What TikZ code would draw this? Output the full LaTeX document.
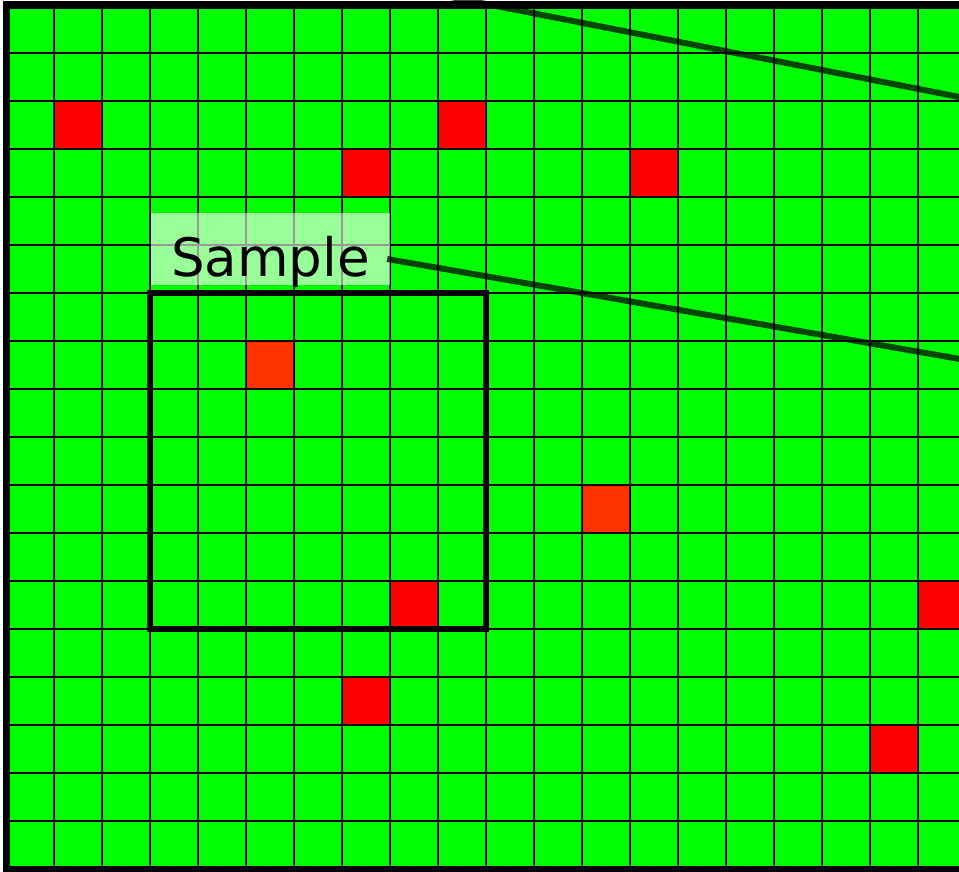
\documentclass[tikz,border=0pt]{standalone}
\usepackage{fontspec}
\setmainfont{DejaVu Sans}
\definecolor{cellgreen}{RGB}{0,255,0}
\definecolor{cellred}{RGB}{255,0,0}
\definecolor{cellorange}{RGB}{255,51,0}
\tikzset{
  gridline/.style={draw=black,line width=2.2pt},
  border/.style={draw=black,line width=7.5pt},
  samplebox/.style={draw=black,line width=6.5pt,line join=miter},
  connector/.style={draw=black,draw opacity=0.73,line width=6pt},
  labelbox/.style={fill=white,fill opacity=0.6,text opacity=1,inner xsep=20pt,inner ysep=0pt,
     text height=63pt,text depth=9pt,font=\fontsize{53}{60}\selectfont,anchor=base west},
}
\newcommand{\cell}[3]{\fill[#3] ({6+48*#1},{5+48*#2}) rectangle ({6+48*(#1+1)},{5+48*(#2+1)});}
\begin{document}
\begin{tikzpicture}[x=1pt,y=-1pt]
\useasboundingbox (0,0) rectangle (959,871);
\clip (0,0) rectangle (959,871);
\fill[white] (0,0) rectangle (959,871);
\fill[cellgreen] (6,5) rectangle (966,869);
% red cells
\cell{1}{2}{cellred}
\cell{9}{2}{cellred}
\cell{7}{3}{cellred}
\cell{13}{3}{cellred}
\cell{5}{7}{cellorange}
\cell{12}{10}{cellorange}
\cell{8}{12}{cellred}
\cell{19}{12}{cellred}
\cell{7}{14}{cellred}
\cell{18}{15}{cellred}
% grid
\foreach \k in {1,...,19} \draw[gridline] ({6.3+48*\k},5) -- ({6.3+48*\k},869);
\foreach \k in {1,...,17} \draw[gridline] (6,{5+48*\k}) -- (966,{5+48*\k});
% border
\draw[border] (6.5,5.2) rectangle (966,870);
% sample window
\draw[samplebox] (150,293) rectangle (486,629);
% label
\node[labelbox] (lbl) at (151,276) {Sample};
% connectors
\coordinate (e1) at (1000,366);
\coordinate (s2) at (420,-9);
\coordinate (e2) at (1000,105);
\draw[connector] ([shift={(-3,10)}]lbl.east) -- (e1);
\draw[connector] (s2) -- (e2);
\end{tikzpicture}
\end{document}
